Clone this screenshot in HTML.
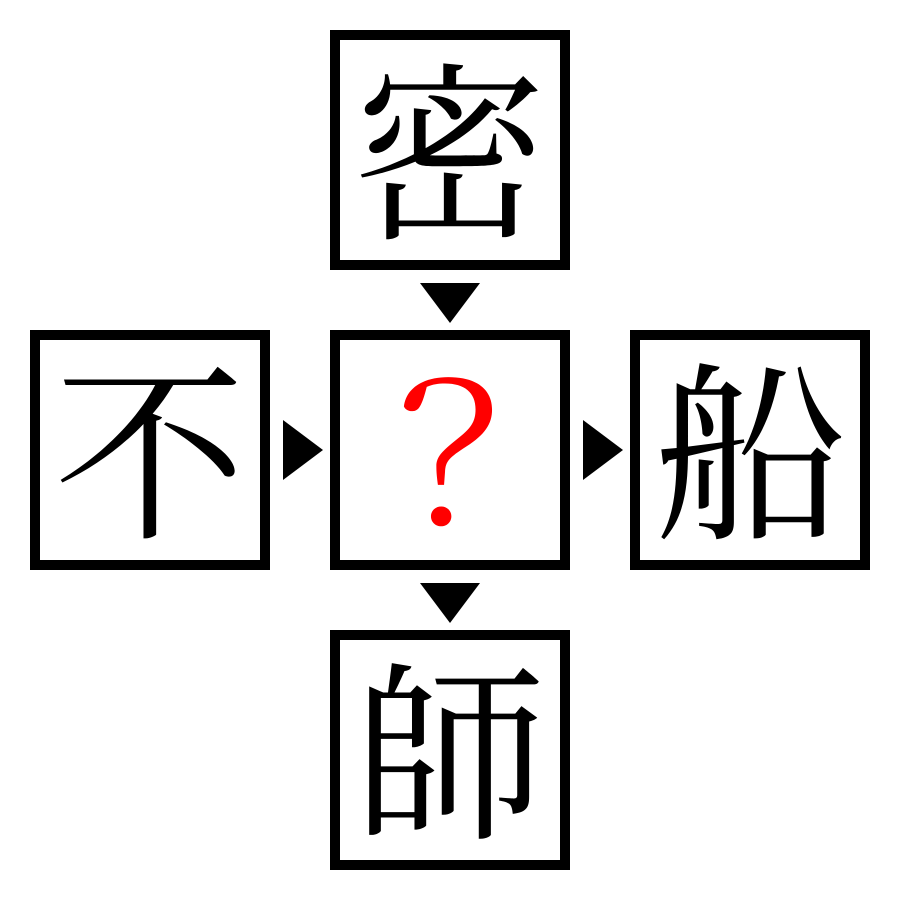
<!DOCTYPE html>
<html><head><meta charset="utf-8"><style>
html,body{margin:0;padding:0;background:#fff;}
body{width:900px;height:900px;position:relative;overflow:hidden;}
.b{position:absolute;width:220px;height:220px;border:10px solid #000;background:#fff;
display:flex;align-items:center;justify-content:center;
font-family:"Liberation Serif","Noto Serif CJK JP","Noto Serif CJK SC",serif;font-size:192px;line-height:1;color:#000;}
.b span{position:relative;top:10px;}
.q{color:#f00;}
svg{position:absolute;left:0;top:0;}
</style></head><body>
<div class="b" style="left:330px;top:30px;"><span>密</span></div>
<div class="b" style="left:30px;top:330px;"><span>不</span></div>
<div class="b q" style="left:330px;top:330px;"><span>？</span></div>
<div class="b" style="left:630px;top:330px;"><span>船</span></div>
<div class="b" style="left:330px;top:630px;"><span>師</span></div>
<svg width="900" height="900">
<polygon points="420,283 480,283 450,323" fill="#000"/>
<polygon points="420,583 480,583 450,623" fill="#000"/>
<polygon points="283,420 283,480 323,450" fill="#000"/>
<polygon points="583,420 583,480 623,450" fill="#000"/>
</svg>
</body></html>
